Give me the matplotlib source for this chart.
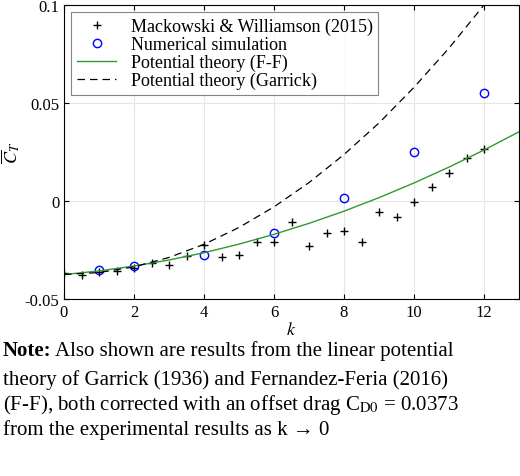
import matplotlib
matplotlib.use('Agg')
import matplotlib.pyplot as plt

plt.rcParams['font.family'] = ['Liberation Serif', 'DejaVu Serif']
plt.rcParams['mathtext.fontset'] = 'stix'

# experimental data (Mackowski & Williamson 2015)
k_exp = [0, 0.5, 1, 1.5, 2, 2.5, 3, 3.5, 4, 4.5, 5, 5.5, 6, 6.5, 7, 7.5, 8, 8.5,
         9, 9.5, 10, 10.5, 11, 11.5, 12]
ct_exp = [-0.0365, -0.0375, -0.0362, -0.0355, -0.0342, -0.0316, -0.0327, -0.0279,
          -0.0224, -0.0284, -0.0276, -0.0211, -0.0208, -0.0109, -0.0231, -0.0165,
          -0.0151, -0.0211, -0.0054, -0.0083, -0.0007, 0.0070, 0.0143, 0.0221, 0.0265]

# numerical simulation
k_num = [1, 2, 4, 6, 8, 10, 12]
ct_num = [-0.0350, -0.0330, -0.0276, -0.0165, 0.0014, 0.0250, 0.0550]

# potential theory curves
k_th = [0, 1, 2, 3, 4, 5, 6, 7, 8, 9, 10, 11, 12, 13]
ct_ff = [-0.0375, -0.0357, -0.0332, -0.0301, -0.0264, -0.0220, -0.0170,
         -0.0114, -0.0052, 0.0017, 0.0092, 0.0173, 0.0260, 0.0353]
ct_garrick = [-0.0375, -0.0365, -0.0336, -0.0288, -0.0221, -0.0135, -0.0030,
              0.0094, 0.0237, 0.0398, 0.0580, 0.0780, 0.1000, 0.1240]

fig = plt.figure(figsize=(5.2, 4.77), dpi=100)
ax = fig.add_axes([64/520, 1 - 300/477, 455/520, 294/477])

ax.plot(k_exp, ct_exp, 'k+', ms=6, mew=1, label='Mackowski & Williamson (2015)')
ax.plot(k_num, ct_num, 'o', mfc='none', mec='blue', ms=6, mew=1,
        label='Numerical simulation')
ax.plot(k_th, ct_ff, '-', color='#2e9a2e', lw=1, label='Potential theory (F-F)')
ax.plot(k_th, ct_garrick, '--', color='k', lw=0.9, dashes=(6, 4),
        label='Potential theory (Garrick)')

ax.set_xlim(0, 13)
ax.set_ylim(-0.05, 0.1)
ax.set_xticks([0, 2, 4, 6, 8, 10, 12])
ax.set_yticks([-0.05, 0, 0.05, 0.1])
ax.set_yticklabels(['-0.05', '0', '0.05', '0.1'])
ax.grid(True, color='#e6e6e6', lw=0.8)
ax.tick_params(direction='in', labelsize=12, top=True, right=True)
ax.set_xlabel('$k$', fontsize=13, labelpad=1)
ax.set_ylabel(r'$\overline{C}_T$', fontsize=13, labelpad=2)
leg = ax.legend(loc='upper left', fontsize=13, fancybox=False, edgecolor='#666666',
                handlelength=2.2, borderpad=0.3, labelspacing=0.05, borderaxespad=0.4)
leg.get_frame().set_linewidth(0.8)

ytop = 1 - 341/477
note = fig.text(0.005, ytop, 'Note:', fontsize=15, fontweight='bold', va='top', ha='left')
fig.canvas.draw()
bb = note.get_window_extent().transformed(fig.transFigure.inverted())
fig.text(bb.x1 + 0.008, ytop, 'Also shown are results from the linear potential',
         fontsize=15, va='top', ha='left')
fig.text(0.005, ytop - 29/477,
         'theory of Garrick (1936) and Fernandez-Feria (2016)\n'
         '(F-F), both corrected with an offset drag C$_{\\rm D0}$ = 0.0373\n'
         'from the experimental results as k → 0',
         fontsize=15, va='top', ha='left', linespacing=1.2)

fig.savefig('out.png', dpi=100)
